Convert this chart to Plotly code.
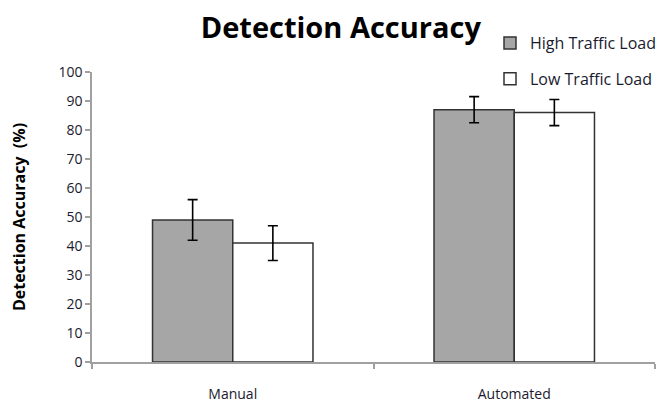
import plotly.graph_objects as go

categories = ["Manual", "Automated"]
high_values = [49, 87]
high_errors = [7, 4.5]
low_values = [41, 86]
low_errors = [6, 4.5]
series_names = ["High Traffic Load", "Low Traffic Load"]

font_family = "Open Sans, Lato, sans-serif"

# the page body has an 8px default margin, so the figure is 8px smaller
W, H = 659, 398
ML, MR, MT, MB = 84, 12, 64, 44
plot_w = W - ML - MR
plot_h = H - MT - MB

fig = go.Figure()
fig.add_trace(go.Bar(
    x=categories, y=high_values, name=series_names[0],
    marker=dict(color="#a6a6a6", line=dict(color="#333333", width=1.5)),
    error_y=dict(type="data", array=high_errors, color="black", thickness=1.6, width=5),
    legendgroup="a",
))
fig.add_trace(go.Bar(
    x=categories, y=low_values, name=series_names[1],
    marker=dict(color="#ffffff", line=dict(color="#333333", width=1.5)),
    error_y=dict(type="data", array=low_errors, color="black", thickness=1.6, width=5),
    legendgroup="b",
))

fig.update_layout(
    width=W, height=H,
    margin=dict(l=ML, r=MR, t=MT, b=MB, autoexpand=False),
    paper_bgcolor="white", plot_bgcolor="white",
    barmode="group", bargap=0.43, bargroupgap=0,
    font=dict(family=font_family, size=14, color="#1a1a2e"),
    title=dict(text="<b>Detection Accuracy</b>", x=0.505, xanchor="center",
               y=0.950, yanchor="middle", font=dict(size=29, color="black")),
    legend=dict(x=(490 - 92) / plot_w, y=1 + (72 - 26) / plot_h,
                xanchor="left", yanchor="top",
                traceorder="grouped", tracegroupgap=12,
                font=dict(size=16, color="#1a1a2e"), itemwidth=30,
                bgcolor="rgba(0,0,0,0)"),
    showlegend=True,
)
fig.update_yaxes(
    range=[0, 100], dtick=10, showgrid=False, zeroline=False, automargin=False,
    showline=True, linecolor="#a0a0a0", linewidth=1.5,
    ticks="outside", ticklen=5, tickcolor="#a0a0a0", tickwidth=1.5,
    tickfont=dict(size=14),
    title=dict(text="<b>Detection Accuracy  (%)</b>", font=dict(size=16, color="black"), standoff=31),
)
fig.update_xaxes(
    showgrid=False, showline=True, linecolor="#a0a0a0", linewidth=1.5, automargin=False,
    ticks="outside", tickson="boundaries", ticklen=5, tickcolor="#a0a0a0", tickwidth=1.5,
    tickfont=dict(size=14), ticklabelstandoff=18,
)

fig.write_html("out.html")
